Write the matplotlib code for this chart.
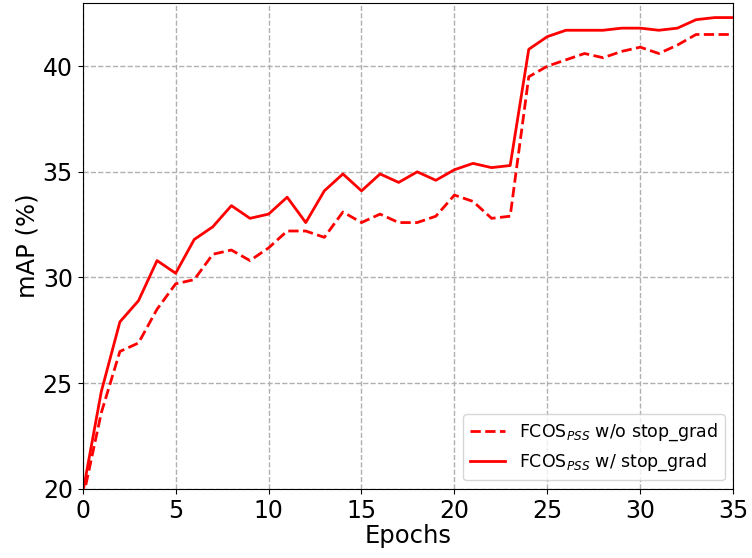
import matplotlib
matplotlib.use('Agg')
import matplotlib.pyplot as plt

# epochs and mAP values
epochs = list(range(0, 36))
map_wo_stop = [19.5, 23.6, 26.5, 26.9, 28.5, 29.7, 29.9, 31.1, 31.3, 30.8,
               31.4, 32.2, 32.2, 31.9, 33.1, 32.6, 33.0, 32.6, 32.6, 32.9,
               33.9, 33.6, 32.8, 32.9, 39.5, 40.0, 40.3, 40.6, 40.4, 40.7,
               40.9, 40.6, 41.0, 41.5, 41.5, 41.5]
map_w_stop = [19.8, 24.6, 27.9, 28.9, 30.8, 30.2, 31.8, 32.4, 33.4, 32.8,
              33.0, 33.8, 32.6, 34.1, 34.9, 34.1, 34.9, 34.5, 35.0, 34.6,
              35.1, 35.4, 35.2, 35.3, 40.8, 41.4, 41.7, 41.7, 41.7, 41.8,
              41.8, 41.7, 41.8, 42.2, 42.3, 42.3]

label_wo = r'FCOS$_{PSS}$ w/o stop_grad'
label_w = r'FCOS$_{PSS}$ w/ stop_grad'

fig = plt.figure(figsize=(7.52, 5.58), dpi=100)
ax = fig.add_axes([0.110, 0.124, 0.865, 0.871])

ax.plot(epochs, map_wo_stop, color='red', linestyle='--', linewidth=2, label=label_wo)
ax.plot(epochs, map_w_stop, color='red', linestyle='-', linewidth=2, label=label_w)

ax.set_xlim(0, 35)
ax.set_ylim(20, 43)
ax.set_xticks([0, 5, 10, 15, 20, 25, 30, 35])
ax.set_yticks([20, 25, 30, 35, 40])
ax.tick_params(labelsize=17)
ax.set_xlabel('Epochs', fontsize=17.5, labelpad=1)
ax.set_ylabel('mAP (%)', fontsize=17.5, labelpad=2)
ax.grid(True, linestyle='--', color='#b0b0b0', linewidth=1)
ax.legend(loc='lower right', fontsize=12.5)

fig.savefig('out.png', dpi=100)
